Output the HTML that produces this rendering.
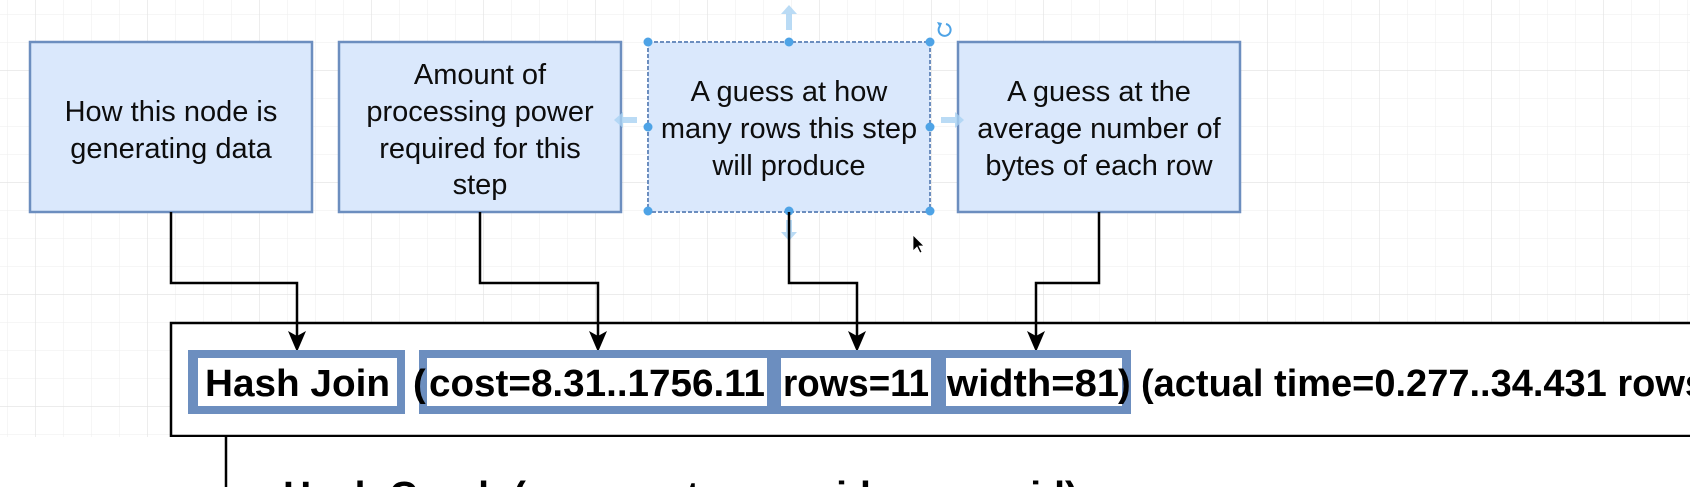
<!DOCTYPE html>
<html><head><meta charset="utf-8"><style>
html,body{margin:0;padding:0;background:#fff;width:1690px;height:487px;overflow:hidden;}
svg{display:block;}
text{font-family:"Liberation Sans",Arial,sans-serif;}
</style></head><body>
<svg width="1690" height="487" viewBox="0 0 1690 487" xmlns="http://www.w3.org/2000/svg">
<defs>
<pattern id="minor" x="7" y="14" width="28" height="28" patternUnits="userSpaceOnUse">
<path d="M0 0H28M0 0V28" stroke="#f0f0f0" stroke-width="1.2" fill="none"/>
</pattern>
<pattern id="major" x="35" y="70" width="112" height="112" patternUnits="userSpaceOnUse">
<path d="M0 0H112M0 0V112" stroke="#e2e2e2" stroke-width="1.2" fill="none"/>
</pattern>
</defs>
<rect width="1690" height="487" fill="#fff"/>
<rect width="1690" height="487" fill="url(#minor)"/>
<rect width="1690" height="487" fill="url(#major)"/>

<rect x="171" y="323" width="1540" height="113" fill="#fff" stroke="#000" stroke-width="2.5"/>
<rect x="0" y="437" width="1690" height="50" fill="#fff"/>
<line x1="226" y1="436" x2="226" y2="487" stroke="#000" stroke-width="2.5"/>

<g fill="#dae8fc" stroke="#6c8ebf" stroke-width="2.5">
<rect x="30" y="42" width="282" height="170"/>
<rect x="339" y="42" width="282" height="170"/>
<rect x="648" y="42" width="282" height="170" stroke-dasharray="4 2" stroke-width="2"/>
<rect x="958" y="42" width="282" height="170"/>
</g>
<g font-size="29" fill="#0d0d0d" text-anchor="middle">
<text x="171" y="121">How this node is</text>
<text x="171" y="158">generating data</text>
<text x="480" y="84">Amount of</text>
<text x="480" y="121">processing power</text>
<text x="480" y="158">required for this</text>
<text x="480" y="194">step</text>
<text x="789" y="101">A guess at how</text>
<text x="789" y="138">many rows this step</text>
<text x="789" y="175">will produce</text>
<text x="1099" y="101">A guess at the</text>
<text x="1099" y="138">average number of</text>
<text x="1099" y="175">bytes of each row</text>
</g>

<g fill="#a9d2f3" opacity="0.8">
<path d="M786 30V14h-5l8-9 8 9h-5v16z"/>
<path d="M637 123h-14v5l-9-8 9-8v5h14z"/>
<path d="M941 117h14v-5l9 8-9 8v-5h-14z"/>
<path d="M786 220v12h-5l8 9 8-9h-5v-12z"/>
</g>
<g fill="#4ea3e6">
<circle cx="648" cy="42" r="4.5"/><circle cx="789" cy="42" r="4.5"/><circle cx="930" cy="42" r="4.5"/>
<circle cx="648" cy="127" r="4.5"/><circle cx="930" cy="127" r="4.5"/>
<circle cx="648" cy="211" r="4.5"/><circle cx="789" cy="211" r="4.5"/><circle cx="930" cy="211" r="4.5"/>
</g>
<path d="M946 24a6 6 0 1 1-6 2" fill="none" stroke="#4ea3e6" stroke-width="2"/>
<path d="M937 22l5 1-2 5z" fill="#4ea3e6"/>
<path d="M913 235v16l4-4 3 6 2-1-3-6h5z" fill="#000" stroke="#fff" stroke-width="0.8"/>

<g fill="none" stroke="#000" stroke-width="2.5">
<path d="M171 212V283H297V340"/>
<path d="M480 212V283H598V340"/>
<path d="M789 212V283H857V340"/>
<path d="M1099 212V283H1036V340"/>
</g>
<g fill="#000">
<path d="M288 331l9 21 9-21-9 5z"/>
<path d="M589 331l9 21 9-21-9 5z"/>
<path d="M848 331l9 21 9-21-9 5z"/>
<path d="M1027 331l9 21 9-21-9 5z"/>
</g>

<rect x="188" y="350" width="217" height="64" fill="#6c8ebf"/>
<rect x="198" y="358" width="199" height="48" fill="#fff"/>
<rect x="419" y="350" width="712" height="64" fill="#6c8ebf"/>
<rect x="427" y="358" width="340" height="48" fill="#fff"/>
<rect x="781" y="358" width="150" height="48" fill="#fff"/>
<rect x="946" y="358" width="176" height="48" fill="#fff"/>

<g font-size="38" font-weight="bold" fill="#000">
<text x="205" y="396" textLength="185" lengthAdjust="spacingAndGlyphs">Hash Join</text>
<text x="413" y="396">(</text>
<text x="429" y="396" textLength="336" lengthAdjust="spacingAndGlyphs">cost=8.31..1756.11</text>
<text x="783" y="396" textLength="146" lengthAdjust="spacingAndGlyphs">rows=11</text>
<text x="947" y="396" textLength="172" lengthAdjust="spacingAndGlyphs">width=81</text>
<text x="1118" y="396">)</text>
<text x="1141" y="396">(actual time=0.277..34.431 rows=11 loops=1)</text>
<text x="283" y="508" textLength="795" lengthAdjust="spacingAndGlyphs">Hash Cond: (comments.user_id = users.id)</text>
</g>
</svg>
</body></html>
